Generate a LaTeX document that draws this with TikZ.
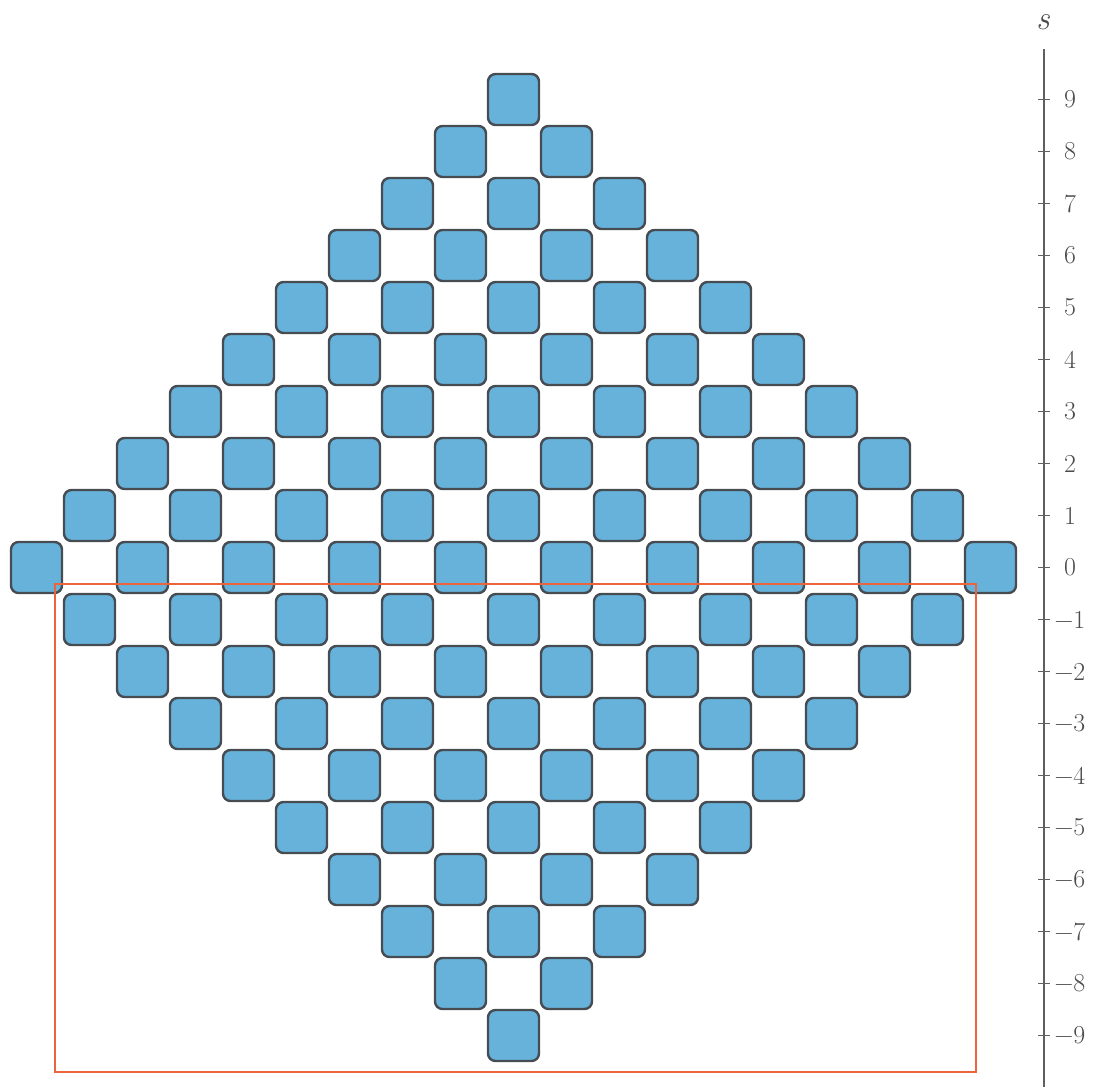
\documentclass[tikz,border=0pt]{standalone}
\definecolor{sqfill}{RGB}{102,178,219}
\definecolor{sqdraw}{RGB}{70,76,82}
\definecolor{redbox}{RGB}{236,100,60}
\definecolor{axisc}{RGB}{95,95,95}
\definecolor{labc}{RGB}{75,75,75}
\begin{document}
\begin{tikzpicture}[x=1bp,y=-1bp,
  sq/.style={draw=sqdraw, fill=sqfill, line width=2.4bp, rounded corners=7.5bp,
    minimum size=51bp, inner sep=0pt, outer sep=0pt},
  axisline/.style={draw=axisc, line width=1.8bp},
  ticklab/.style={text=labc, font={\fontsize{26}{30}\selectfont}, inner sep=0pt},
  axlab/.style={text=labc, font={\fontsize{34}{38}\selectfont\itshape}, inner sep=0pt},
  frame/.style={draw=redbox, line width=2.2bp}]
\useasboundingbox (0,0) rectangle (1095,1090);
\foreach \s in {-9,...,9}{
  \foreach \j in {-9,...,9}{
    \pgfmathtruncatemacro\a{abs(\s)+abs(\j)}
    \pgfmathtruncatemacro\p{mod(\s+\j+40,2)}
    \ifnum\a<10 \ifnum\p=1
      \node[sq] (sq\s_\j) at ({513.5+53*\j},{567.5-52*\s}) {};
    \fi\fi
  }
}
% axis
\coordinate (atop) at (1044,49);
\coordinate (abot) at (1044,1087);
\draw[axisline] (atop) -- (abot);
\node[axlab] (slab) at (1043,22) {s};
\foreach \s in {-9,...,9}{
  \pgfmathtruncatemacro\n{abs(\s)}
  \coordinate (tl\s) at (1038,{567.5-52*\s});
  \coordinate (tr\s) at (1050,{567.5-52*\s});
  \draw[axisline] (tl\s) -- (tr\s);
  \node[ticklab] (lab\s) at (1070,{567.5-52*\s}) {\ifnum\s<0 −\n\else\n\fi};
}
% red frame
\coordinate (rA) at (55,584);
\coordinate (rB) at (976,1072);
\draw[frame] (rA) rectangle (rB);
\end{tikzpicture}
\end{document}
